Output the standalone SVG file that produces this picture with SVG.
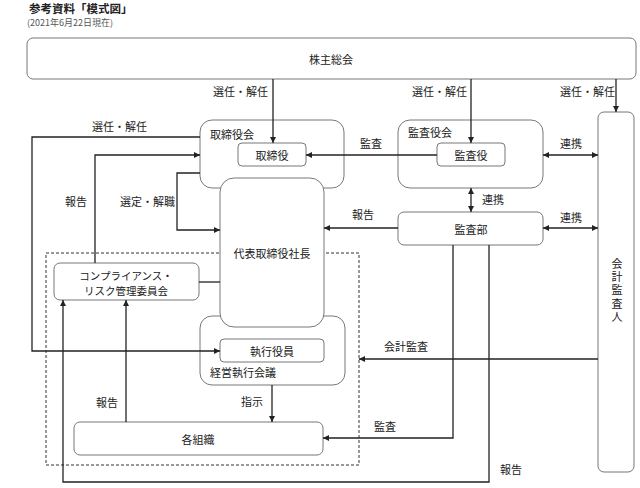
<svg xmlns="http://www.w3.org/2000/svg" width="640" height="488" viewBox="0 0 640 488">
<style>
text{font-family:"Noto Sans CJK JP","Noto Sans",sans-serif;font-size:11px;fill:#222}
.t{font-size:11.5px;font-weight:bold;dominant-baseline:central}
.s{font-size:9px;fill:#555;dominant-baseline:central}
.m{text-anchor:middle;dominant-baseline:central}
.v{writing-mode:vertical-rl;letter-spacing:2.3px}
.n{font-size:10.5px}
.b{fill:#fff;stroke:#777;stroke-width:1}
.c{fill:none;stroke:#222;stroke-width:1.3}
.d{fill:none;stroke:#333;stroke-width:1;stroke-dasharray:3,2}
</style>
<defs>
<marker id="a" viewBox="0 0 10 10" refX="10" refY="5" markerWidth="6" markerHeight="6" markerUnits="userSpaceOnUse" orient="auto-start-reverse"><path d="M0,0L10,5L0,10z" fill="#222"/></marker>
</defs>
<text class="t" x="29" y="8">参考資料「模式図」</text>
<text class="s" x="27" y="22">(2021年6月22日現在)</text>
<g id="kabunushi"><rect class="b" x="27" y="38" width="609" height="41" rx="6"/><text class="m" x="331" y="59">株主総会</text></g>
<g id="kaikei"><rect class="b" x="598" y="112" width="36" height="360" rx="6"/>
<text class="v" x="617" y="258">会計監査人</text></g>
<g id="dashed"><rect class="d" x="46" y="253" width="313" height="212"/></g>
<g id="torishimariyakukai"><rect class="b" x="200" y="120" width="144" height="68" rx="12"/><text x="210" y="139">取締役会</text></g>
<g id="torishimariyaku"><rect class="b" x="238" y="143" width="68" height="23" rx="4"/><text class="m" x="272" y="155">取締役</text></g>
<g id="kansayakukai"><rect class="b" x="398" y="120" width="145" height="68" rx="12"/><text x="408" y="137">監査役会</text></g>
<g id="kansayaku"><rect class="b" x="437" y="143" width="68" height="23" rx="4"/><text class="m" x="471" y="155">監査役</text></g>
<g id="kansabu"><rect class="b" x="398" y="212" width="145" height="33" rx="6"/><text class="m" x="471" y="229">監査部</text></g>
<g id="keiei"><rect class="b" x="200" y="316" width="145" height="69" rx="12"/><text x="210" y="377">経営執行会議</text></g>
<g id="shikkou"><rect class="b" x="220" y="339" width="104" height="23" rx="4"/><text class="m" x="272" y="351">執行役員</text></g>
<g id="daihyou"><rect class="b" x="220" y="178" width="104" height="149" rx="14"/><text class="m" x="272" y="253">代表取締役社長</text></g>
<g id="compliance"><rect class="b" x="54" y="263" width="145" height="37" rx="6"/><text class="m n" x="126" y="275">コンプライアンス・</text><text class="m n" x="126" y="290">リスク管理委員会</text></g>
<g id="kakusoshiki"><rect class="b" x="74" y="422" width="249" height="33" rx="6"/><text class="m" x="198" y="439">各組織</text></g>
<g id="connectors">
<path class="c" d="M273,79V143" marker-end="url(#a)"/>
<path class="c" d="M471,79V143" marker-end="url(#a)"/>
<path class="c" d="M616,79V112" marker-end="url(#a)"/>
<path class="c" d="M437,155H306" marker-end="url(#a)"/>
<path class="c" d="M543,155H598" marker-start="url(#a)" marker-end="url(#a)"/>
<path class="c" d="M471,188V212" marker-start="url(#a)" marker-end="url(#a)"/>
<path class="c" d="M543,228H598" marker-start="url(#a)" marker-end="url(#a)"/>
<path class="c" d="M398,228H324" marker-end="url(#a)"/>
<path class="c" d="M200,173H177V230H220" marker-end="url(#a)"/>
<path class="c" d="M200,137H32V351H220" marker-end="url(#a)"/>
<path class="c" d="M95,263V155H200" marker-end="url(#a)"/>
<path class="c" d="M199,282H220"/>
<path class="c" d="M272,385V422" marker-end="url(#a)"/>
<path class="c" d="M126,422V300" marker-end="url(#a)"/>
<path class="c" d="M453,245V438H323" marker-end="url(#a)"/>
<path class="c" d="M489,245V482H63V300" marker-end="url(#a)"/>
<path class="c" d="M598,359H359" marker-end="url(#a)"/>
<text x="213" y="96">選任・解任</text>
<text x="412" y="96">選任・解任</text>
<text x="560" y="96">選任・解任</text>
<text x="92" y="131">選任・解任</text>
<text x="360" y="148">監査</text>
<text x="560" y="148">連携</text>
<text x="482" y="204">連携</text>
<text x="560" y="222">連携</text>
<text x="352" y="219">報告</text>
<text x="120" y="206">選定・解職</text>
<text x="65" y="206">報告</text>
<text x="241" y="406">指示</text>
<text x="96" y="407">報告</text>
<text x="374" y="431">監査</text>
<text x="384" y="351">会計監査</text>
<text x="500" y="474">報告</text>
</g>
</svg>
